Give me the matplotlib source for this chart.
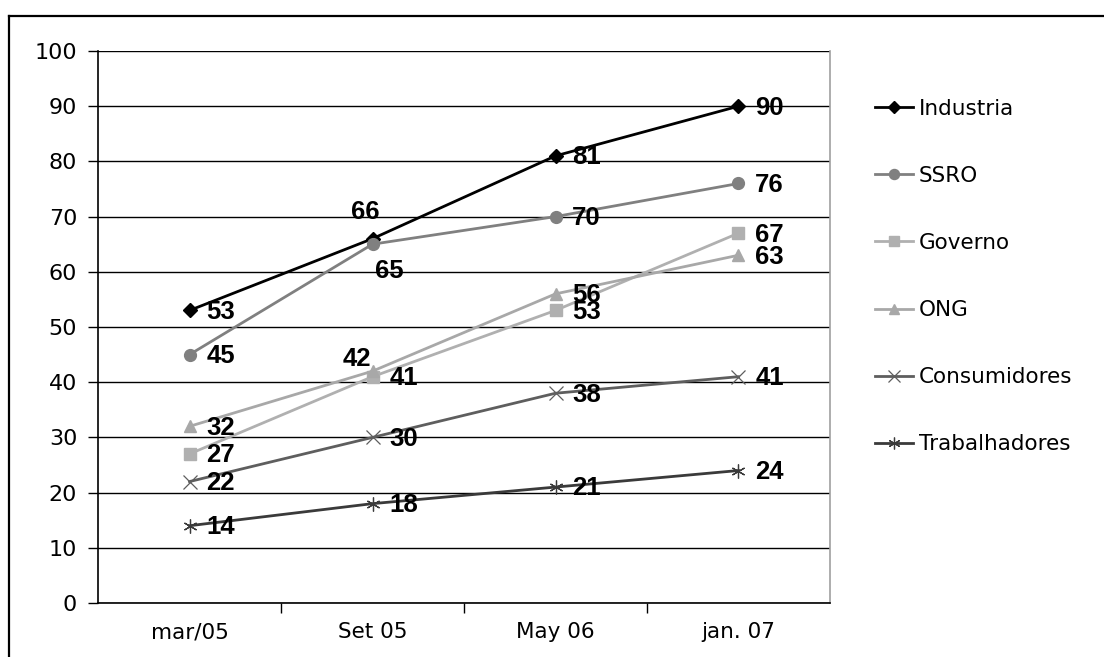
import matplotlib
matplotlib.use("Agg")
import os
import matplotlib.pyplot as plt
from matplotlib import font_manager as fm
from matplotlib.lines import Line2D

# Survey periods and the share (%) reported for each stakeholder group
periods = ["mar/05", "Set 05", "May 06", "jan. 07"]
industria = [53, 66, 81, 90]
ssro = [45, 65, 70, 76]
governo = [27, 41, 53, 67]
ong = [32, 42, 56, 63]
consumidores = [22, 30, 38, 41]
trabalhadores = [14, 18, 21, 24]

series = [
    ("Industria", industria, dict(color="#000000", marker="D", ms=7)),
    ("SSRO", ssro, dict(color="#808080", marker="o", ms=8.5)),
    ("Governo", governo, dict(color="#b0b0b0", marker="s", ms=8)),
    ("ONG", ong, dict(color="#a8a8a8", marker="^", ms=8.5)),
    ("Consumidores", consumidores, dict(color="#5e5e5e", marker="x", ms=10, mew=0.9)),
    ("Trabalhadores", trabalhadores, dict(color="#3a3a3a", marker=(6, 2, 0), ms=10, mew=0.9)),
]

# Bold Arial-like face for the value labels (regular width, not the narrow cut)
bold_path = None
for path in fm.findSystemFonts():
    if os.path.basename(path) == "LiberationSans-Bold.ttf":
        bold_path = path
        break
if bold_path:
    value_font = fm.FontProperties(fname=bold_path, size=18.5)
else:
    value_font = fm.FontProperties(family="DejaVu Sans", weight="bold", size=17)

# Label offsets (points) for points whose value label sits off the default right side
special = {
    ("Industria", 1): (-5, 19, "center"),
    ("SSRO", 1): (12, -19, "center"),
    ("ONG", 1): (-11, 9, "center"),
}

fig = plt.figure(figsize=(11.04, 6.57), dpi=100)
ax = fig.add_axes([98 / 1104, 54 / 657, 732 / 1104, 552 / 657])

x = list(range(len(periods)))
handles = []
for name, vals, st in series:
    (h,) = ax.plot(x, vals, lw=2.0, color=st["color"], marker=st["marker"],
                   ms=st["ms"], mew=st.get("mew", 1.0), mfc=st["color"], mec=st["color"],
                   label=name, zorder=3, clip_on=False)
    handles.append(h)
    for i, v in enumerate(vals):
        if (name, i) in special:
            dx, dy, ha = special[(name, i)]
        else:
            dx, dy, ha = 12, -1, "left"
        ax.annotate(str(v), (i, v), xytext=(dx, dy), textcoords="offset points",
                    ha=ha, va="center", fontproperties=value_font, zorder=4)

ax.set_xlim(-0.5, 3.5)
ax.set_ylim(0, 100)
ax.set_yticks(range(0, 101, 10))
ax.set_yticklabels([str(t) for t in range(0, 101, 10)], fontsize=16, family="DejaVu Sans")
ax.set_xticks(x)
ax.set_xticklabels(periods, fontsize=15.5, family="DejaVu Sans")
ax.set_xticks([0.5, 1.5, 2.5], minor=True)
ax.tick_params(axis="x", which="major", length=0, pad=14)
ax.tick_params(axis="x", which="minor", length=7, width=1, direction="out", color="#000000")
ax.tick_params(axis="y", length=7, width=1, direction="out", pad=8)

ax.yaxis.grid(True, color="#000000", lw=1.0, zorder=0)
ax.set_axisbelow(True)
ax.spines["top"].set_visible(False)
ax.spines["right"].set_color("#a0a0a0")
ax.spines["right"].set_linewidth(1.2)
ax.spines["left"].set_linewidth(1.2)
ax.spines["bottom"].set_linewidth(1.2)

fig.legend(handles=handles, loc="upper left", bbox_to_anchor=(866 / 1104, 1 - 90 / 657),
           frameon=False, fontsize=15.5, labelspacing=2.19, handlelength=1.8,
           handletextpad=0.25, borderaxespad=0, markerscale=0.85)

# Outer frame (top and left edges)
fig.add_artist(Line2D([9 / 1104, 9 / 1104], [0, 1 - 16 / 657], transform=fig.transFigure,
                      color="#000000", lw=1.6))
fig.add_artist(Line2D([9 / 1104, 1], [1 - 16 / 657, 1 - 16 / 657], transform=fig.transFigure,
                      color="#000000", lw=1.6))

fig.savefig("out.png", dpi=100)
